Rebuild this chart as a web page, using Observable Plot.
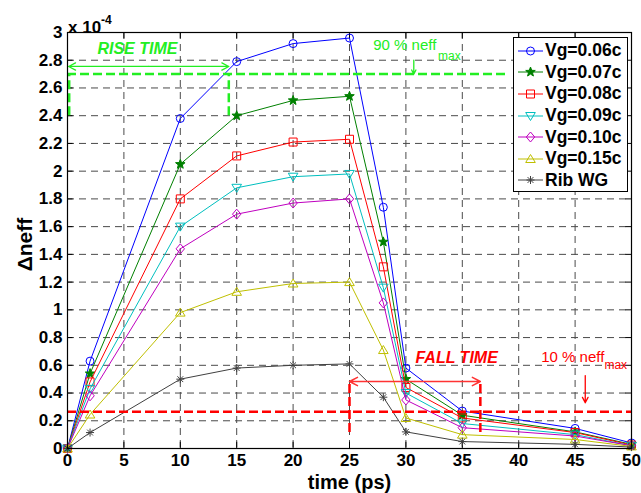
<!DOCTYPE html>
<html><head><meta charset="utf-8">
<script src="https://cdn.jsdelivr.net/npm/d3@7"></script>
<script src="https://cdn.jsdelivr.net/npm/@observablehq/plot@0.6"></script>
<style>
body{margin:0;background:#fff;}
#wrap{position:relative;width:641px;height:493px;font-family:"Liberation Sans",Arial,Helvetica,sans-serif;}
#wrap svg.plot{position:absolute;left:0;top:0;}
.exp{position:absolute;left:68px;top:12px;font-weight:bold;font-size:17px;line-height:20px;}
.exp sup{font-size:12px;position:relative;top:-2px;}
.legend{position:absolute;left:513px;top:37px;width:115px;height:155px;border:1px solid #000;background:#fff;box-sizing:border-box;padding-top:2px;}
.legend .row{height:21.6px;display:flex;align-items:center;font-weight:bold;font-size:17.5px;white-space:nowrap;}
.legend svg{margin-left:4px;margin-right:2px;flex:none;}
</style></head><body><div id="wrap"></div>
<script>
// ---- data ----
const times = [0, 2, 10, 15, 20, 25, 28, 30, 35, 45, 50];
const seriesNames = ["Vg=0.06c", "Vg=0.07c", "Vg=0.08c", "Vg=0.09c", "Vg=0.10c", "Vg=0.15c", "Rib WG"];
const vg006 = [0, 0.63, 2.38, 2.79, 2.92, 2.96, 1.74, 0.58, 0.27, 0.145, 0.04];
const vg007 = [0, 0.54, 2.05, 2.40, 2.51, 2.54, 1.49, 0.50, 0.24, 0.12, 0.03];
const vg008 = [0, 0.48, 1.80, 2.11, 2.21, 2.23, 1.31, 0.44, 0.22, 0.115, 0.025];
const vg009 = [0, 0.43, 1.60, 1.88, 1.96, 1.98, 1.16, 0.40, 0.18, 0.10, 0.02];
const vg010 = [0, 0.38, 1.44, 1.69, 1.77, 1.80, 1.05, 0.35, 0.15, 0.09, 0.02];
const vg015 = [0, 0.245, 0.98, 1.13, 1.19, 1.20, 0.71, 0.22, 0.10, 0.065, 0.015];
const ribWG = [0, 0.115, 0.50, 0.58, 0.60, 0.61, 0.37, 0.12, 0.05, 0.03, 0.01];
const xTicks = [0, 5, 10, 15, 20, 25, 30, 35, 40, 45, 50];
const yTicks = [0, 0.2, 0.4, 0.6, 0.8, 1, 1.2, 1.4, 1.6, 1.8, 2, 2.2, 2.4, 2.6, 2.8, 3];
const yTickLabels = ["0", "0.2", "0.4", "0.6", "0.8", "1", "1.2", "1.4", "1.6", "1.8", "2", "2.2", "2.4", "2.6", "2.8", "3"];
// annotation values (data units)
const riseLevel = 2.70, riseTime = 14.3, riseLow = 2.40, riseArrowY = 2.755, riseLineEnd = 39;
const fallLevel = 0.265, fallStart = 25, fallEnd = 36.6, fallLow = 0.115, fallHigh = 0.49, fallArrowY = 0.483;

// ---- styles ----
const colors = ["#0000ff", "#008000", "#ff0000", "#00bfbf", "#bf00bf", "#bfbf00", "#404040"];
const allValues = [vg006, vg007, vg008, vg009, vg010, vg015, ribWG];

const sym = {
  circle: {draw(c){ c.moveTo(4,0); c.arc(0,0,4,0,2*Math.PI); c.closePath(); }},
  star: {draw(c){ for(let i=0;i<10;i++){ const r = i%2? 2.1:5; const a = -Math.PI/2 + i*Math.PI/5; const x=r*Math.cos(a), y=r*Math.sin(a); i?c.lineTo(x,y):c.moveTo(x,y);} c.closePath(); }},
  square: {draw(c){ c.rect(-4,-4,8,8); }},
  triDown: {draw(c){ c.moveTo(0,4.5); c.lineTo(4.8,-3.5); c.lineTo(-4.8,-3.5); c.closePath(); }},
  diamond: {draw(c){ c.moveTo(0,-5); c.lineTo(4.2,0); c.lineTo(0,5); c.lineTo(-4.2,0); c.closePath(); }},
  triUp: {draw(c){ c.moveTo(0,-4.5); c.lineTo(4.8,3.5); c.lineTo(-4.8,3.5); c.closePath(); }},
  aster: {draw(c){ const r=4, d=2.9; c.moveTo(-r,0); c.lineTo(r,0); c.moveTo(0,-r); c.lineTo(0,r); c.moveTo(-d,-d); c.lineTo(d,d); c.moveTo(-d,d); c.lineTo(d,-d); }}
};
const symbols = [sym.circle, sym.star, sym.square, sym.triDown, sym.diamond, sym.triUp, sym.aster];
const fills = ["none", "#008000", "none", "none", "none", "none", "none"];

const green = "#22ee22", red = "#ff0000", lightRed = "#ff3333";

const seriesMarks = [];
allValues.forEach((vals, i) => {
  const rows = times.map((t, j) => ({t, v: vals[j]}));
  seriesMarks.push(Plot.line(rows, {x: "t", y: "v", stroke: colors[i], strokeWidth: 1}));
  seriesMarks.push(Plot.dot(rows, {x: "t", y: "v", symbol: symbols[i], stroke: colors[i], fill: fills[i], strokeWidth: 1}));
});

const gridDash = "7,5";
const chart = Plot.plot({
  width: 641, height: 493,
  marginLeft: 67, marginRight: 10, marginTop: 32, marginBottom: 45,
  x: {domain: [0, 50]},
  y: {domain: [0, 3]},
  style: {fontFamily: '"Liberation Sans", Arial, Helvetica, sans-serif', fontSize: "17px", fontWeight: "bold", color: "#000", background: "#fff"},
  marks: [
    Plot.ruleX(xTicks.slice(1, -1), {stroke: "#4a4a4a", strokeDasharray: gridDash, strokeWidth: 1}),
    Plot.ruleY(yTicks.slice(1, -1), {stroke: "#4a4a4a", strokeDasharray: gridDash, strokeWidth: 1}),
    // inner tick marks
    Plot.ruleX(xTicks, {y1: 0, y2: 0.045, stroke: "#000"}),
    Plot.ruleX(xTicks, {y1: 2.955, y2: 3, stroke: "#000"}),
    Plot.ruleY(yTicks, {x1: 0, x2: 0.5, stroke: "#000"}),
    Plot.ruleY(yTicks, {x1: 49.5, x2: 50, stroke: "#000"}),
    ...seriesMarks,
    // rise time annotation
    Plot.ruleY([riseLevel], {x1: 0, x2: riseLineEnd, stroke: green, strokeWidth: 2.5, strokeDasharray: "9,4"}),
    Plot.ruleX([0.15, riseTime], {y1: riseLow, y2: riseLevel, stroke: green, strokeWidth: 2.5, strokeDasharray: "9,4"}),
    Plot.arrow([0], {x1: riseTime/2, x2: 0.1, y1: riseArrowY, y2: riseArrowY, stroke: green, strokeWidth: 1.3, headLength: 9, headAngle: 55}),
    Plot.arrow([0], {x1: riseTime/2, x2: riseTime, y1: riseArrowY, y2: riseArrowY, stroke: green, strokeWidth: 1.3, headLength: 9, headAngle: 55}),
    Plot.text(["RISE TIME"], {x: 6.2, y: 2.88, fill: green, fontStyle: "italic", fontWeight: "bold", fontSize: 16}),
    Plot.text(["90 % neff"], {x: 27.1, y: 2.905, textAnchor: "start", fill: green, fontWeight: "normal", fontSize: 15}),
    Plot.text(["max"], {x: 32.85, y: 2.83, textAnchor: "start", fill: green, fontWeight: "normal", fontSize: 12}),
    Plot.arrow([0], {x1: 30.7, x2: 30.7, y1: 2.80, y2: riseLevel, stroke: green, strokeWidth: 1.3, headLength: 7, headAngle: 55}),
    // fall time annotation
    Plot.ruleY([fallLevel], {x1: 0, x2: 50, stroke: red, strokeWidth: 2.5, strokeDasharray: "9,4"}),
    Plot.ruleX([fallStart, fallEnd], {y1: fallLow, y2: fallHigh, stroke: red, strokeWidth: 2.5, strokeDasharray: "9,4"}),
    Plot.arrow([0], {x1: (fallStart+fallEnd)/2, x2: fallStart, y1: fallArrowY, y2: fallArrowY, stroke: lightRed, strokeWidth: 1.5, headLength: 9, headAngle: 55}),
    Plot.arrow([0], {x1: (fallStart+fallEnd)/2, x2: fallEnd, y1: fallArrowY, y2: fallArrowY, stroke: lightRed, strokeWidth: 1.5, headLength: 9, headAngle: 55}),
    Plot.text(["FALL TIME"], {x: 34.5, y: 0.656, fill: red, fontStyle: "italic", fontWeight: "bold", fontSize: 16}),
    Plot.text(["10 % neff"], {x: 42.0, y: 0.656, textAnchor: "start", fill: red, fontWeight: "normal", fontSize: 15}),
    Plot.text(["max"], {x: 47.6, y: 0.60, textAnchor: "start", fill: red, fontWeight: "normal", fontSize: 12}),
    Plot.arrow([0], {x1: 45.9, x2: 45.9, y1: 0.526, y2: 0.33, stroke: red, strokeWidth: 1.3, headLength: 7, headAngle: 55}),
    // axes
    Plot.frame({stroke: "#000", strokeWidth: 1.2}),
    Plot.axisX(xTicks, {tickSize: 0, tickPadding: 5, label: null}),
    Plot.axisY(yTicks, {tickSize: 0, tickPadding: 5, label: null, tickFormat: (d, i) => yTickLabels[i]}),
    Plot.text(["time (ps)"], {frameAnchor: "bottom", lineAnchor: "middle", textAnchor: "middle", dy: 34, fontSize: 20, fontWeight: "bold"}),
    Plot.text(["\u0394neff"], {frameAnchor: "left", lineAnchor: "middle", textAnchor: "middle", dx: -42, dy: 4, rotate: -90, fontSize: 21, fontWeight: "bold"})
  ]
});
chart.classList.add("plot");
const wrap = document.getElementById("wrap");
wrap.appendChild(chart);

const exp = document.createElement("div");
exp.className = "exp";
exp.innerHTML = "x 10<sup>-4</sup>";
wrap.appendChild(exp);

const legend = document.createElement("div");
legend.className = "legend";
seriesNames.forEach((name, i) => {
  const row = document.createElement("div");
  row.className = "row";
  const p = d3.path();
  symbols[i].draw(p);
  row.innerHTML = `<svg width="25" height="16" viewBox="0 0 25 16"><line x1="0" x2="25" y1="8" y2="8" stroke="${colors[i]}" stroke-width="1"/><path transform="translate(12.5,8)" d="${p.toString()}" stroke="${colors[i]}" fill="${fills[i]}"/></svg><span>${name}</span>`;
  legend.appendChild(row);
});
wrap.appendChild(legend);
</script></body></html>
